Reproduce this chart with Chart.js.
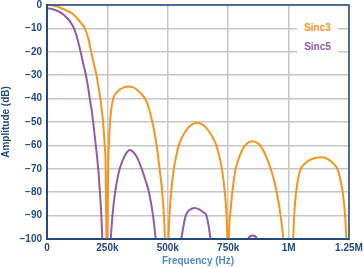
<!DOCTYPE html>
<html>
<head>
<meta charset="utf-8">
<script src="https://cdn.jsdelivr.net/npm/chart.js@4.4.1/dist/chart.umd.min.js"></script>
<style>
  html, body { margin: 0; padding: 0; background: #fff; }
  #wrap { position: relative; width: 363px; height: 268px; }
  .key {
    position: absolute; left: 297px; width: 41px; height: 14px;
    background: #fff; text-align: center;
    font: bold 10px "Liberation Sans", Arial, sans-serif; line-height: 14px;
  }
</style>
</head>
<body>
<div id="wrap">
  <canvas id="chart" width="363" height="268"></canvas>
  <div class="key" style="top:21px;color:#f7941e">Sinc3</div>
  <div class="key" style="top:40px;color:#9459a8">Sinc5</div>
</div>
<script>
// Sinc3 vs Sinc5 filter response.
// Frequencies in kHz, amplitude in dB. Notch points sit below -100 and get
// clipped by the plot area, as in the original.

const X_TICKS = [0, 250, 500, 750, 1000, 1250];
const X_TICK_LABELS = ['0', '250k', '500k', '750k', '1M', '1.25M'];
const Y_TICKS = [0, -10, -20, -30, -40, -50, -60, -70, -80, -90, -100];
const Y_TICK_LABELS = ['0', '−10', '−20', '−30', '−40', '−50', '−60', '−70', '−80', '−90', '−100'];

const SINC3_FREQ = [
  // main lobe
  0, 20, 40, 60, 80, 100, 115, 130, 145, 157, 170, 183, 195, 205, 214, 221, 227, 232, 239, 243, 246, 248,
  // 250k - 500k
  250, 253, 256, 261, 267, 274, 285, 300, 318, 337, 356, 374, 392, 409, 424, 436, 446, 454, 466, 477, 484, 488, 496,
  // 500k - 750k
  503, 507, 514, 525, 534, 546, 557, 568, 583, 601, 621, 641, 660, 677, 690, 701, 713, 724, 736, 743, 746, 750,
  // 750k - 1M
  753, 758, 767, 781, 790, 800, 812, 830, 849, 868, 884, 897, 910, 926, 940, 951, 967, 978, 1000,
  // 1M - 1.25M
  1019, 1023, 1031, 1040, 1050, 1065, 1085, 1110, 1134, 1158, 1178, 1194, 1204, 1215, 1224, 1234, 1239, 1250,
];
const SINC3_DB = [
  0, -0.15, -0.6, -1.4, -2.3, -3.3, -4.6, -6.3, -8.3, -10, -14, -20, -25.5, -30, -35.5, -40, -45, -50, -60, -70, -100, -140,
  -100, -70, -60, -50, -44, -40, -37.8, -36.2, -35.2, -34.8, -35.2, -36.3, -38.2, -40.5, -45, -50, -55, -60, -70, -80, -90, -100, -140,
  -100, -90, -80, -70, -65, -60, -57, -54.8, -52.6, -51, -50.3, -50.9, -52.6, -55, -57.3, -60, -64.5, -70, -80, -90, -100, -140,
  -100, -90, -80, -70, -66.8, -63.8, -61.2, -59, -58.2, -58.8, -60.2, -62.5, -65.5, -70, -75, -80, -90, -100, -140,
  -100, -90, -80, -74, -70, -68, -66.4, -65.4, -65.1, -65.6, -67, -68.8, -70.5, -75, -80, -90, -100, -130,
];

const SINC5_FREQ = [
  0, 20, 40, 60, 80, 95, 112, 126, 139, 151, 161, 170, 177, 185, 191, 202, 212, 219, 225, 229, 247,
  264, 271, 282, 291, 301, 313, 327, 342, 357, 372, 392, 408, 422, 439, 450, 500,
  556, 564, 574, 590, 611, 630, 646, 660, 670, 677, 750,
  832, 851, 870, 950, 1250,
];
const SINC5_DB = [
  -1.4, -1.7, -2.4, -3.5, -5.2, -7, -10, -14.5, -20, -25.5, -30, -35, -40, -45, -50, -60, -70, -80, -90, -100, -140,
  -100, -90, -80, -74.5, -70, -66.5, -63.5, -62, -62.8, -65, -70, -75, -80, -90, -100, -140,
  -100, -95, -90, -87.6, -86.7, -87.3, -88.5, -90, -95, -100, -140,
  -100, -98.5, -100, -140, -140,
];

const ORANGE = '#f7941e';
const PURPLE = '#9459a8';
const NAVY = '#234a7c';
const TITLE_BLUE = '#4a8acb';
const GRID = '#c6c6c6';
const FONT = '"Liberation Sans", Arial, sans-serif';

function points(xs, ys) {
  return xs.map((x, i) => ({ x, y: ys[i] }));
}

function series(label, xs, ys, color) {
  return {
    label,
    data: points(xs, ys),
    borderColor: color,
    backgroundColor: color,
    borderWidth: 2,
    pointRadius: 0,
    cubicInterpolationMode: 'monotone',
  };
}

// top/right edges of the frame (chart.js only draws the axis sides)
const frame = {
  id: 'frame',
  afterDatasetsDraw(chart) {
    const { ctx, chartArea: a } = chart;
    ctx.save();
    ctx.strokeStyle = NAVY;
    ctx.lineWidth = 1.5;
    ctx.strokeRect(a.left, a.top, a.right - a.left, a.bottom - a.top);
    ctx.restore();
  },
};

new Chart(document.getElementById('chart'), {
  type: 'line',
  data: {
    datasets: [
      series('Sinc3', SINC3_FREQ, SINC3_DB, ORANGE),
      series('Sinc5', SINC5_FREQ, SINC5_DB, PURPLE),
    ],
  },
  options: {
    responsive: false,
    animation: false,
    layout: { padding: { top: 5, right: 14, left: 0, bottom: 0 } },
    plugins: { legend: { display: false }, tooltip: { enabled: false } },
    scales: {
      x: {
        type: 'linear',
        min: 0,
        max: 1250,
        afterBuildTicks: (s) => { s.ticks = X_TICKS.map((v) => ({ value: v })); },
        afterFit: (s) => { s.height = 29; s.paddingLeft = 0; s.paddingRight = 0; },
        ticks: {
          color: NAVY,
          padding: 3,
          maxRotation: 0,
          font: { family: FONT, size: 10, weight: 'bold' },
          callback: (v) => X_TICK_LABELS[X_TICKS.indexOf(v)],
        },
        grid: { color: GRID, lineWidth: 1.5, drawTicks: false },
        border: { color: NAVY, width: 2 },
        title: {
          display: true,
          text: 'Frequency (Hz)',
          color: TITLE_BLUE,
          padding: { top: 0, bottom: 1 },
          font: { family: FONT, size: 10, weight: 'bold' },
        },
      },
      y: {
        min: -100,
        max: 0,
        afterBuildTicks: (s) => { s.ticks = Y_TICKS.map((v) => ({ value: v })); },
        afterFit: (s) => { s.width = 47; s.paddingTop = 0; s.paddingBottom = 0; },
        ticks: {
          color: NAVY,
          padding: 5,
          font: { family: FONT, size: 10, weight: 'bold' },
          callback: (v) => Y_TICK_LABELS[Y_TICKS.indexOf(v)],
        },
        grid: { color: GRID, lineWidth: 1.5, drawTicks: false },
        border: { color: NAVY, width: 2 },
        title: {
          display: true,
          text: 'Amplitude (dB)',
          color: NAVY,
          padding: { top: 0, bottom: 0 },
          font: { family: FONT, size: 10, weight: 'bold' },
        },
      },
    },
  },
  plugins: [frame],
});
</script>
</body>
</html>
